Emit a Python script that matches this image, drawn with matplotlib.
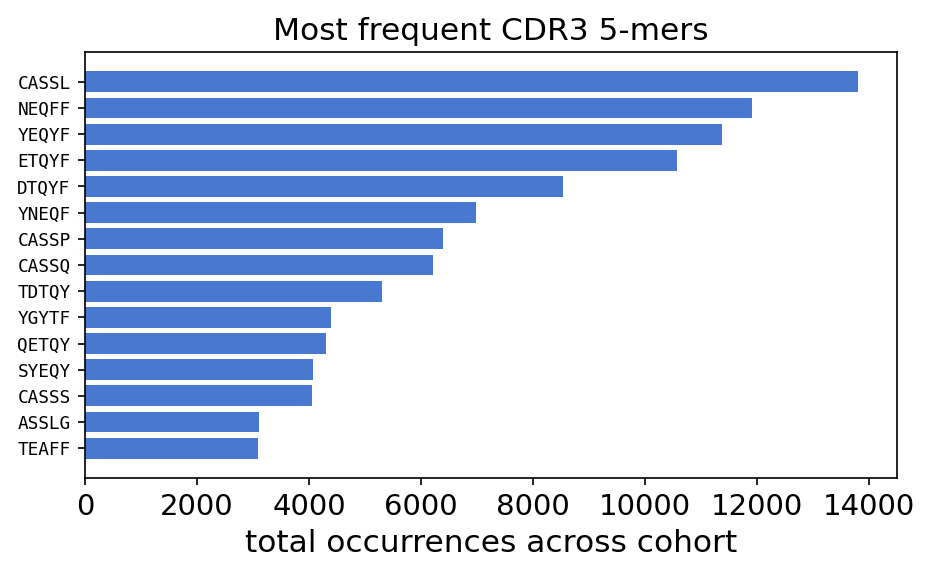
import matplotlib
matplotlib.use("Agg")
import matplotlib.pyplot as plt

# 5-mers and counts, most frequent first
kmers = ["CASSL", "NEQFF", "YEQYF", "ETQYF", "DTQYF", "YNEQF", "CASSP", "CASSQ",
         "TDTQY", "YGYTF", "QETQY", "SYEQY", "CASSS", "ASSLG", "TEAFF"]
counts = [13810, 11915, 11380, 10575, 8540, 6985, 6395, 6217,
          5305, 4394, 4305, 4073, 4055, 3108, 3090]

fig, ax = plt.subplots(figsize=(934 / 150, 581 / 150), dpi=150)
fig.subplots_adjust(left=85 / 934, right=897 / 934, top=1 - 52 / 581, bottom=1 - 478 / 581)

ax.barh(kmers, counts, color="#4878d0")
ax.invert_yaxis()

ax.set_title("Most frequent CDR3 5-mers", fontsize=15)
ax.set_xlabel("total occurrences across cohort", fontsize=15)
ax.tick_params(axis="x", labelsize=14)
for lab in ax.get_yticklabels():
    lab.set_fontfamily("DejaVu Sans Mono")
    lab.set_fontsize(8.5)

fig.savefig("out.png", dpi=150)
